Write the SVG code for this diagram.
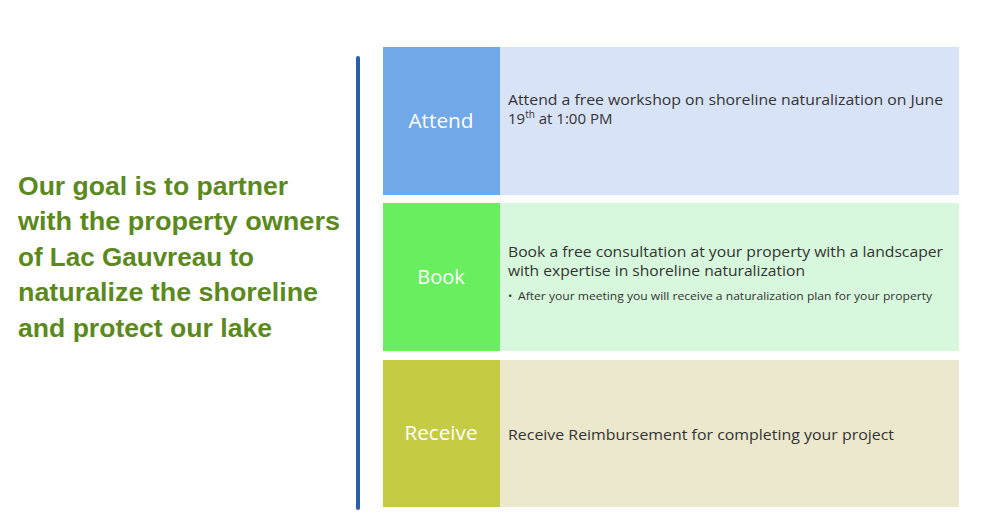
<svg xmlns="http://www.w3.org/2000/svg" width="1000" height="531" viewBox="0 0 1000 531">
<style>
.goal{font-family:"Liberation Sans",Arial,sans-serif;font-weight:bold;font-size:25px;fill:#5C891E}
.lbl{font-family:"Open Sans","Liberation Sans",sans-serif;font-size:20px;fill:#ffffff;text-anchor:middle}
.txt{font-family:"Open Sans","Liberation Sans",sans-serif;font-size:15px;fill:#333333}
.sm{font-family:"Open Sans","Liberation Sans",sans-serif;font-size:11.5px;fill:#333333}
</style>
<rect width="1000" height="531" fill="#ffffff"/>
<g id="goal">
<text class="goal" x="18" y="195" textLength="270" lengthAdjust="spacingAndGlyphs">Our goal is to partner</text>
<text class="goal" x="18" y="230" textLength="322" lengthAdjust="spacingAndGlyphs">with the property owners</text>
<text class="goal" x="18" y="266" textLength="236" lengthAdjust="spacingAndGlyphs">of Lac Gauvreau to</text>
<text class="goal" x="18" y="301" textLength="300" lengthAdjust="spacingAndGlyphs">naturalize the shoreline</text>
<text class="goal" x="18" y="337" textLength="254" lengthAdjust="spacingAndGlyphs">and protect our lake</text>
</g>
<g id="connectors">
<line x1="358" y1="58" x2="358" y2="508" stroke="#2B5FA8" stroke-width="4" stroke-linecap="round"/>
</g>
<g id="attend">
<rect x="383" y="47" width="117" height="148" fill="#71A8E7"/>
<rect x="500" y="47" width="459" height="148" fill="#D9E3F8"/>
<text class="lbl" x="441" y="128" textLength="65" lengthAdjust="spacingAndGlyphs">Attend</text>
<text class="txt" x="508" y="105" textLength="435" lengthAdjust="spacingAndGlyphs">Attend a free workshop on shoreline naturalization on June</text>
<text class="txt" x="508" y="124">19<tspan font-size="10" dy="-6">th</tspan><tspan dy="6"> at 1:00 PM</tspan></text>
</g>
<g id="book">
<rect x="383" y="203" width="117" height="148" fill="#68EE5F"/>
<rect x="500" y="203" width="459" height="148" fill="#D7F8DC"/>
<text class="lbl" x="441" y="284">Book</text>
<text class="txt" x="508" y="257" textLength="435" lengthAdjust="spacingAndGlyphs">Book a free consultation at your property with a landscaper</text>
<text class="txt" x="508" y="276" textLength="297" lengthAdjust="spacingAndGlyphs">with expertise in shoreline naturalization</text>
<text class="sm" x="508" y="300">•</text>
<text class="sm" x="518" y="300" textLength="414" lengthAdjust="spacingAndGlyphs">After your meeting you will receive a naturalization plan for your property</text>
</g>
<g id="receive">
<rect x="383" y="360" width="117" height="147" fill="#C5CC44"/>
<rect x="500" y="360" width="459" height="147" fill="#EBE8CD"/>
<text class="lbl" x="441" y="440" textLength="73" lengthAdjust="spacingAndGlyphs">Receive</text>
<text class="txt" x="508" y="440" textLength="386" lengthAdjust="spacingAndGlyphs">Receive Reimbursement for completing your project</text>
</g>
</svg>
